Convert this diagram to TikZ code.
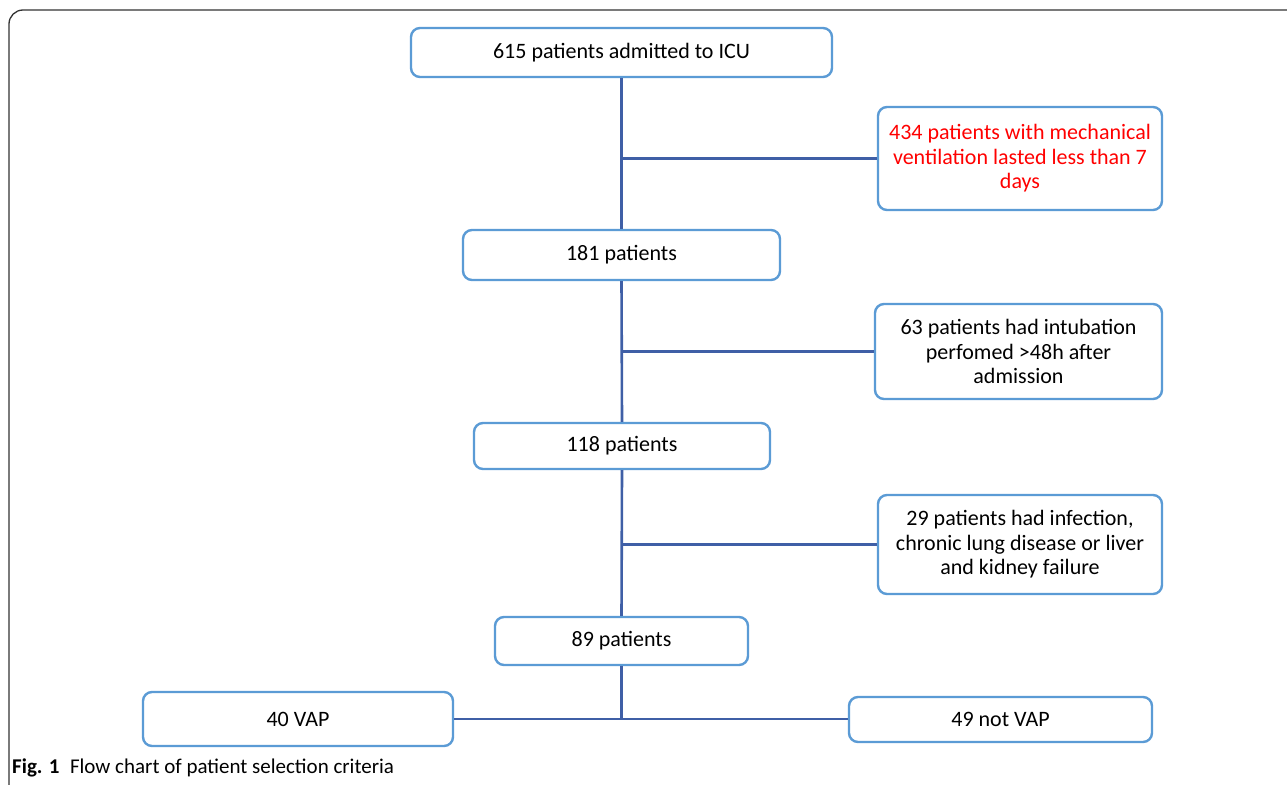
\documentclass[tikz,border=0pt]{standalone}
\usepackage{fontspec}
\setmainfont{Carlito}
\usetikzlibrary{calc}

\definecolor{boxblue}{HTML}{5B9BD5}
\definecolor{linkblue}{HTML}{3F5FA6}
\definecolor{redtext}{HTML}{FF0000}

\begin{document}
\begin{tikzpicture}
          [x=1pt,y=-1pt,
           stage/.style={draw=boxblue,line width=2.4pt,rounded corners=9pt,fill=white,
                         inner sep=0pt,font=\fontsize{22}{24.5}\selectfont,align=center},
           link/.style={draw=linkblue,line width=2.6pt}]

          \useasboundingbox (0,0) rectangle (1287,784);
          \draw[line width=1.3pt,black!80,rounded corners=14pt] (9,786) -- (9,10) -- (1300,10);

          \node[stage,minimum width=421pt,minimum height=49pt] (all) at (621.5,52.5) {615 patients admitted to ICU};
          \node[stage,minimum width=284pt,minimum height=103pt,text=redtext] (ex1) at (1020,158.5) {434 patients with mechanical\\ventilation lasted less than 7\\days};
          \node[stage,minimum width=317pt,minimum height=50pt] (p181) at (621.5,255) {181 patients};
          \node[stage,minimum width=287pt,minimum height=95pt] (ex2) at (1018.5,351.5) {63 patients had intubation\\perfomed >48h after\\admission};
          \node[stage,minimum width=296pt,minimum height=46pt] (p118) at (622,446) {118 patients};
          \node[stage,minimum width=284pt,minimum height=99pt] (ex3) at (1020,544.5) {29 patients had infection,\\chronic lung disease or liver\\and kidney failure};
          \node[stage,minimum width=253pt,minimum height=48pt] (p89) at (621.5,641) {89 patients};
          \node[stage,minimum width=310pt,minimum height=54pt] (vap) at (298,719) {40 VAP};
          \node[stage,minimum width=303pt,minimum height=45pt] (novap) at (1000.5,719.5) {49 not VAP};

          \coordinate (b1) at (all.south |- ex1.west);
          \coordinate (b2) at (all.south |- ex2.west);
          \coordinate (b3) at (all.south |- ex3.west);
          \coordinate (b4) at (p89.south |- vap.east);

          \draw[link] (all.south) -- (p181.north);
          \draw[link] (p181.south) -- (p118.north);
          \draw[link] (p118.south) -- (p89.north);
          \draw[link] (p89.south) -- (b4);
          \draw[link] (b1) -- (ex1.west);
          \draw[link] (b2) -- (ex2.west);
          \draw[link] (b3) -- (ex3.west);
          \draw[link] (vap.east) -- (b4) -- (b4 -| novap.west);

          \node[anchor=west,inner sep=0pt,font=\fontsize{21}{24}\selectfont] (cap) at (12,768) {\textbf{Fig. 1}\enspace Flow chart of patient selection criteria};
        \end{tikzpicture}
\end{document}
